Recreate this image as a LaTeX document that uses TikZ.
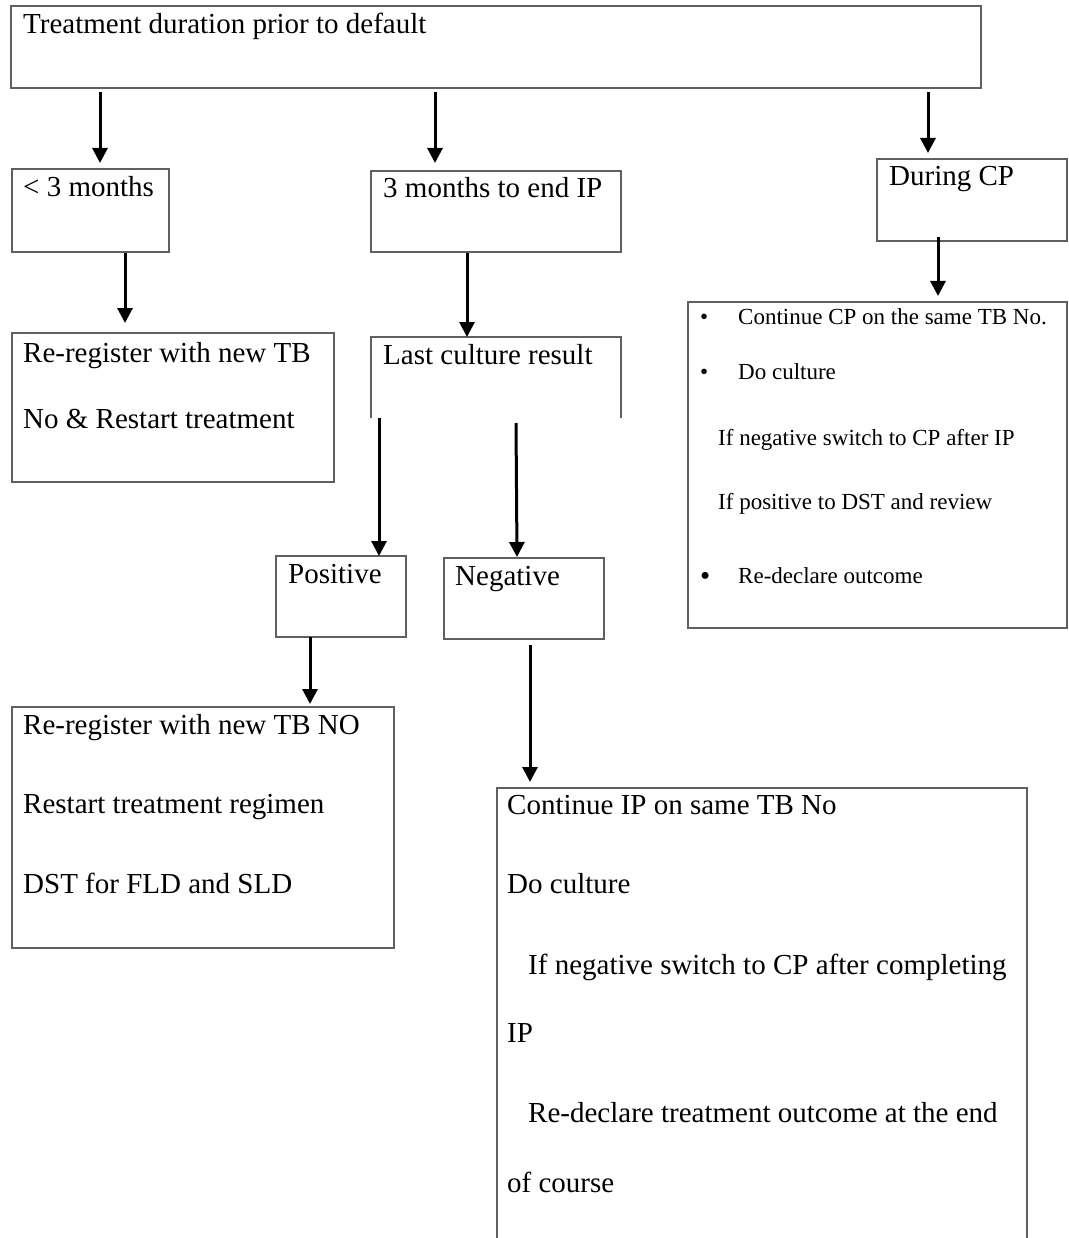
\documentclass[tikz,border=0pt]{standalone}
\usepackage{fontspec}
\setmainfont{Liberation Serif}
\usetikzlibrary{arrows.meta}
\definecolor{boxgray}{HTML}{606060}
\tikzset{
  box/.style={draw=boxgray, line width=1.1pt, rectangle, inner sep=0pt, outer sep=0pt, anchor=north west},
  openbox/.style={rectangle, inner sep=0pt, outer sep=0pt, anchor=north west},
  side/.style={draw=boxgray, line width=1.1pt},
  txt/.style={anchor=base west, inner sep=0pt, font=\fontsize{29}{34}\selectfont},
  stxt/.style={anchor=base west, inner sep=0pt, font=\fontsize{23}{28}\selectfont},
  arr/.style={line width=3pt, -{Triangle[length=15pt,width=15pt]}}
}
\begin{document}
\begin{tikzpicture}[x=1pt,y=-1pt]
\useasboundingbox[fill=white] (0,0) rectangle (1068,1238);
% boxes
\node[box, minimum width=970pt, minimum height=82pt] (top) at (11,6) {};
\node[box, minimum width=157pt, minimum height=83pt] (lt3) at (12,169) {};
\node[box, minimum width=250pt, minimum height=81pt] (mid) at (371,171) {};
\node[box, minimum width=190pt, minimum height=82pt] (dcp) at (877,159) {};
\node[box, minimum width=322pt, minimum height=149pt] (rr1) at (12,333) {};
\node[openbox, minimum width=250pt, minimum height=81pt] (lcr) at (371,337) {};
\draw[side] (lcr.south west) -- (lcr.north west) -- (lcr.north east) -- (lcr.south east);
\node[box, minimum width=379pt, minimum height=326pt] (lst) at (688,302) {};
\node[box, minimum width=130pt, minimum height=81pt] (pos) at (276,556) {};
\node[box, minimum width=160pt, minimum height=81pt] (neg) at (444,558) {};
\node[box, minimum width=382pt, minimum height=241pt] (rr2) at (12,707) {};
\node[openbox, minimum width=530pt, minimum height=470pt] (cont) at (497,788) {};
\draw[side] (cont.south west) -- (cont.north west) -- (cont.north east) -- (cont.south east);
% texts
\node[txt] (t0) at (23,34) {Treatment duration prior to default};
\node[txt] (t1) at (23,197) {< 3 months};
\node[txt] (t2) at (383,198) {3 months to end IP};
\node[txt] (t3) at (889,186) {During CP};
\node[txt] (t4) at (23,362) {Re-register with new TB};
\node[txt] (t5) at (23,428) {No \& Restart treatment};
\node[txt] (t6) at (383,364) {Last culture result};
\node[stxt] (b1) at (700,324) {•};
\node[stxt] (l1) at (738,324) {Continue CP on the same TB No.};
\node[stxt] (b2) at (700,379) {•};
\node[stxt] (l2) at (738,379) {Do culture};
\node[stxt] (l3) at (718,445) {If negative switch to CP after IP};
\node[stxt] (l4) at (718,509) {If positive to DST and review};
\node[txt] (b3) at (700,585) {•};
\node[stxt] (l5) at (738,583) {Re-declare outcome};
\node[txt] (t7) at (288,583) {Positive};
\node[txt] (t8) at (455,585) {Negative};
\node[txt] (t9) at (23,734) {Re-register with new TB NO};
\node[txt] (t10) at (23,813) {Restart treatment regimen};
\node[txt] (t11) at (23,893) {DST for FLD and SLD};
\node[txt] (c1) at (507,814) {Continue IP on same TB No};
\node[txt] (c2) at (507,893) {Do culture};
\node[txt] (c3) at (528,974) {If negative switch to CP after completing};
\node[txt] (c4) at (507,1042) {IP};
\node[txt] (c5) at (528,1122) {Re-declare treatment outcome at the end};
\node[txt] (c6) at (507,1192) {of course};
% arrows
\draw[arr] ([shift={(89,4)}]top.south west) -- ([shift={(88,-6)}]lt3.north west);
\draw[arr] ([shift={(424,4)}]top.south west) -- ([shift={(64,-8)}]mid.north west);
\draw[arr] ([shift={(917,4)}]top.south west) -- ([shift={(51,-6)}]dcp.north west);
\draw[arr] ([shift={(113,1)}]lt3.south west) -- ([shift={(113,-10)}]rr1.north west);
\draw[arr] ([shift={(96,1)}]mid.south west) -- ([shift={(96,0)}]lcr.north west);
\draw[arr] ([shift={(61,-4)}]dcp.south west) -- ([shift={(250,-6)}]lst.north west);
\draw[arr] ([shift={(8,0)}]lcr.south west) -- ([shift={(8,0)}]lcr.south west |- pos.north);
\draw[arr] ([shift={(145,5)}]lcr.south west) -- ([shift={(73,-1)}]neg.north west);
\draw[arr] ([shift={(34,0)}]pos.south west) -- ([shift={(298,-3)}]rr2.north west);
\draw[arr] ([shift={(86,6)}]neg.south west) -- ([shift={(33,-6)}]cont.north west);
\end{tikzpicture}
\end{document}
